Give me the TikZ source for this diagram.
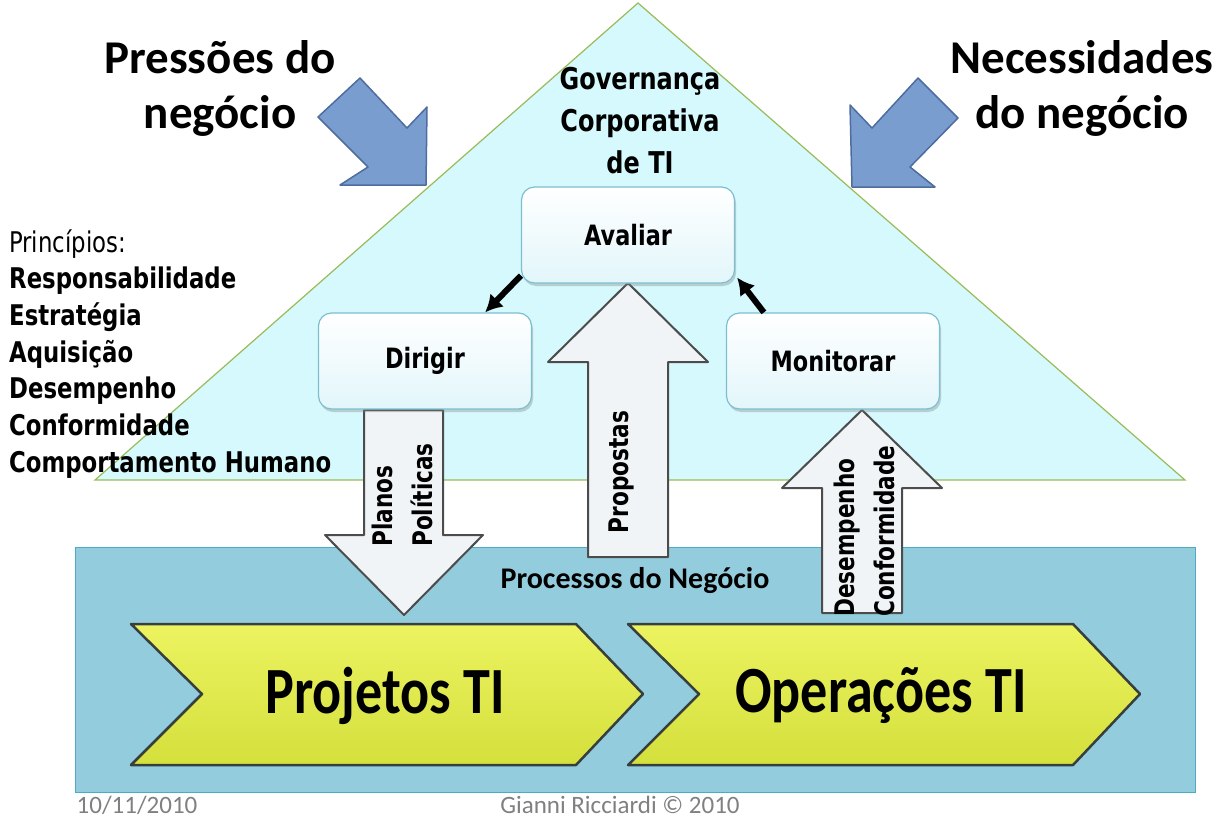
\documentclass[tikz,border=0pt]{standalone}
\usepackage{fontspec}
\setmainfont{Carlito}
\newfontfamily\tah[FakeStretch=0.8]{DejaVu Sans}
\newfontfamily\tall[FakeStretch=0.82]{Carlito}
\usetikzlibrary{arrows.meta, shadows}

\definecolor{trifill}{RGB}{213,249,252}
\definecolor{triline}{RGB}{155,187,89}
\definecolor{procfill}{RGB}{147,205,221}
\definecolor{procline}{RGB}{75,172,198}
\definecolor{pushfill}{RGB}{121,157,207}
\definecolor{pushline}{RGB}{79,108,158}
\definecolor{boxline}{RGB}{126,190,210}
\definecolor{boxbot}{RGB}{226,246,250}
\definecolor{chevtop}{RGB}{236,243,96}
\definecolor{chevbot}{RGB}{212,224,60}
\definecolor{chevline}{RGB}{55,62,62}
\definecolor{flowfill}{RGB}{240,244,246}

\begin{document}
\begin{tikzpicture}[x=1pt, y=-1pt]

\tikzset{tri/.style = {fill=trifill, draw=triline, line width=1.2pt}}
\tikzset{proc/.style = {fill=procfill, draw=procline, line width=1pt}}
\tikzset{push/.style = {fill=pushfill, draw=pushline, line width=1.5pt, line join=round}}
\tikzset{chev/.style = {top color=chevtop, bottom color=chevbot, draw=chevline, line width=2.5pt, line join=round}}
\tikzset{flow/.style = {fill=flowfill, draw=black!70, line width=2pt, line join=round}}
\tikzset{box/.style = {shape=rectangle, rounded corners=13pt, draw=boxline, line width=1.2pt,
  top color=white, bottom color=boxbot, minimum width=213pt, minimum height=96pt,
  drop shadow={shadow xshift=1.5pt, shadow yshift=-3pt, opacity=0.35},
  font=\tah\fontsize{28}{34}\selectfont\bfseries}}
\tikzset{link/.style = {draw, -{Latex[length=17pt, width=19pt]}, line width=6pt}}
\tikzset{flowtext/.style = {inner sep=0pt, rotate=90, font=\tah\fontsize{27}{40}\selectfont\bfseries}}

\useasboundingbox (0,0) rectangle (1226,822);

% background
\draw[tri] (638,3) -- (1185,480) -- (95,480) -- cycle;
\draw[proc] (75,547) rectangle (1195,792);

% pressure arrows
\draw[push] (360,78) -- (407,128) -- (427,107) -- (426,185) -- (340,185) -- (368,167) -- (318,117) -- cycle;
\draw[push] (918,78) -- (958,118) -- (910,167) -- (935,187) -- (852,187) -- (850,105) -- (872,128) -- cycle;

% chevrons
\draw[chev] (131,624) -- (576,624) -- (643,694) -- (576,765) -- (131,765) -- (202,694) -- cycle;
\draw[chev] (628,624) -- (1073,624) -- (1140,694) -- (1073,765) -- (628,765) -- (699,694) -- cycle;

% flow arrows
\draw[flow] (364,410) -- (443,410) -- (443,535) -- (483,535) -- (404,615) -- (325,535) -- (364,535) -- cycle;
\draw[flow] (588,557) -- (588,362) -- (548,362) -- (628,283) -- (708,362) -- (668,362) -- (668,557) -- cycle;
\draw[flow] (822,613) -- (822,488) -- (782,488) -- (862,410) -- (942,488) -- (902,488) -- (902,613) -- cycle;

% vertices
\node[box] (avaliar) at (628,235) {Avaliar};
\node[box] (dirigir) at (425,361) {Dirigir};
\node[box] (monitorar) at (833,361) {Monitorar};

%edges
\path[link] ([yshift=8pt]avaliar.south west) -- ([xshift=-47pt]dirigir.north east);
\path[link] ([xshift=38pt]monitorar.north west) -- ([xshift=2pt, yshift=6pt]avaliar.south east);

% labels
\node[flowtext, anchor=west, align=left] (planos) at (402,547) {Planos\\Políticas};
\node[flowtext] (propostas) at (621,472) {Propostas};
\node[flowtext, anchor=west, align=left] (desempenho) at (864,617) {Desempenho\\Conformidade};
\node[font=\fontsize{30}{36}\selectfont\bfseries] (processos) at (635,581) {Processos do Negócio};
\node[font=\tall\fontsize{66}{70}\selectfont\bfseries] (projetos) at (385,696) {Projetos TI};
\node[font=\tall\fontsize{66}{70}\selectfont\bfseries] (operacoes) at (881,696) {Operações TI};

\node[align=center, font=\tah\fontsize{30}{42}\selectfont\bfseries] (governanca) at (640,121) {Governança\\Corporativa\\de TI};
\node[align=center, font=\fontsize{47}{55}\selectfont\bfseries] (pressoes) at (220,88) {Pressões do\\negócio};
\node[align=center, font=\fontsize{47}{55}\selectfont\bfseries] (necessidades) at (1082,88) {Necessidades\\do negócio};

\node[anchor=north west, align=left, inner sep=0pt, font=\tah\fontsize{28.5}{36.7}\selectfont] (principios) at (9,229)
  {Princípios:\\\bfseries Responsabilidade\\\bfseries Estratégia\\\bfseries Aquisição\\\bfseries Desempenho\\\bfseries Conformidade\\\bfseries Comportamento Humano};

% footer
\node[text=gray, font=\fontsize{25}{30}\selectfont] (data) at (137,805) {10/11/2010};
\node[text=gray, font=\fontsize{25}{30}\selectfont] (autor) at (620,805) {Gianni Ricciardi © 2010};

\end{tikzpicture}
\end{document}
